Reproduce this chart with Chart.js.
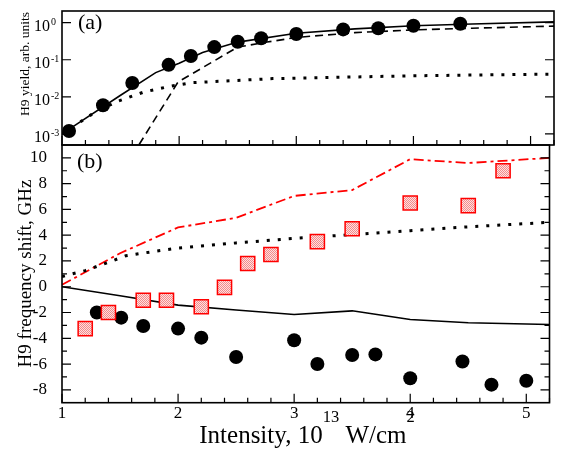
<!DOCTYPE html>
<html>
<head>
<meta charset="utf-8">
<script src="https://cdn.jsdelivr.net/npm/chart.js@4.4.0/dist/chart.umd.min.js"></script>
<style>
  html, body { margin: 0; padding: 0; background: #fff; }
  #wrap { position: relative; width: 561px; height: 457px; }
  #wrap canvas { position: absolute; left: 0; top: 0; }
</style>
</head>
<body>
<div id="wrap">
  <canvas id="chartA" width="561" height="457"></canvas>
  <canvas id="chartB" width="561" height="457"></canvas>
</div>
<script>
// panel (a): H9 yield (log scale)
const yieldExpX = [1.06, 1.35, 1.60, 1.91, 2.10, 2.30, 2.50, 2.70, 3.00, 3.40, 3.70, 4.00, 4.40];
const yieldExpY = [0.0012, 0.0059, 0.0235, 0.073, 0.126, 0.22, 0.305, 0.38, 0.495, 0.66, 0.71, 0.83, 0.94];
const yieldTotalX = [1.0, 1.5, 1.8, 2.0, 2.2, 2.5, 3.0, 3.5, 4.0, 4.5, 5.2];
const yieldTotalY = [0.001, 0.011, 0.045, 0.081, 0.158, 0.30, 0.52, 0.68, 0.83, 0.92, 1.05];
const yieldShortX = [1.6, 1.99, 2.5, 2.75, 3.0, 3.5, 4.0, 4.5, 5.2];
const yieldShortY = [0.00026, 0.025, 0.22, 0.30, 0.40, 0.54, 0.64, 0.71, 0.81];
const yieldLongX = [1.0, 1.25, 1.46, 1.7, 1.9, 2.1, 2.8, 4.0, 5.2];
const yieldLongY = [0.001, 0.0033, 0.0073, 0.0135, 0.0186, 0.024, 0.031, 0.037, 0.041];
const yieldDecades = [0, -1, -2, -3];

// panel (b): H9 frequency shift
const shiftExpX = [1.30, 1.51, 1.70, 2.00, 2.20, 2.50, 3.00, 3.20, 3.50, 3.70, 4.00, 4.45, 4.70, 5.00];
const shiftExpY = [-2.0, -2.4, -3.05, -3.25, -3.95, -5.45, -4.15, -6.0, -5.3, -5.25, -7.1, -5.8, -7.6, -7.3];
const shiftSqX = [1.20, 1.40, 1.70, 1.90, 2.20, 2.40, 2.60, 2.80, 3.20, 3.50, 4.00, 4.50, 4.80];
const shiftSqY = [-3.25, -2.0, -1.05, -1.05, -1.55, -0.05, 1.8, 2.5, 3.5, 4.5, 6.5, 6.3, 9.0];
const shiftSolidX = [1.0, 1.5, 2.0, 2.5, 3.0, 3.5, 4.0, 4.5, 5.2];
const shiftSolidY = [0.0, -0.7, -1.43, -1.8, -2.15, -1.87, -2.54, -2.8, -2.93];
const shiftDotX = [1.0, 1.2, 1.4, 1.55, 1.8, 2.0, 2.5, 3.0, 3.5, 4.0, 4.5, 5.2];
const shiftDotY = [0.8, 1.25, 1.9, 2.4, 2.75, 3.0, 3.4, 3.75, 4.05, 4.35, 4.65, 5.0];
const shiftDashDotX = [1.0, 1.5, 2.0, 2.5, 3.0, 3.5, 4.0, 4.5, 5.2];
const shiftDashDotY = [0.15, 2.6, 4.6, 5.35, 7.05, 7.5, 9.9, 9.6, 10.0];

const xTickLabels = [1, 2, 3, 4, 5];

const SERIF = '"Liberation Serif", "Times New Roman", serif';

function pts(xs, ys) {
    return xs.map((x, i) => ({ x: x, y: ys[i] }));
}

function isWhole(v) {
    return Math.abs(v - Math.round(v)) < 1e-6;
}

// minor ticks every 0.2 along intensity
function xTickValues() {
    const out = [];
    for (let k = 10; k <= 52; k += 2) out.push(k / 10);
    return out;
}

// red stipple used inside the squares
function makeStipple() {
    const c = document.createElement('canvas');
    c.width = 2; c.height = 2;
    const g = c.getContext('2d');
    g.fillStyle = '#fde0e0';
    g.fillRect(0, 0, 2, 2);
    g.fillStyle = '#f48a8a';
    g.fillRect(0, 0, 1, 1);
    g.fillRect(1, 1, 1, 1);
    return g.createPattern(c, 'repeat');
}

// box + inward tick marks
const frameTicks = {
    id: 'frameTicks',
    afterDraw(chart, args, opts) {
        const ctx = chart.ctx;
        const a = chart.chartArea;
        const xs = chart.scales.x;
        const ys = chart.scales.y;
        ctx.save();
        ctx.strokeStyle = '#000';
        ctx.lineWidth = 1.2;
        ctx.beginPath();
        xTickValues().forEach(v => {
            const px = xs.getPixelForValue(v);
            const len = isWhole(v) ? 9 : 5;
            ctx.moveTo(px, a.bottom);
            ctx.lineTo(px, a.bottom - len);
        });
        opts.yTicks.forEach(t => {
            const py = ys.getPixelForValue(t.v);
            ctx.moveTo(a.left, py);
            ctx.lineTo(a.left + t.len, py);
            ctx.moveTo(a.right, py);
            ctx.lineTo(a.right - t.len, py);
        });
        ctx.stroke();
        ctx.lineWidth = 1.6;
        ctx.strokeRect(a.left, a.top, a.right - a.left, a.bottom - a.top);
        ctx.restore();
    }
};

// text with superscripts: parts = [[text, size, raise], ...]
function drawParts(ctx, parts, cx, baseY) {
    let total = 0;
    parts.forEach(p => {
        ctx.font = p[1] + 'px ' + SERIF;
        total += ctx.measureText(p[0]).width;
    });
    let x = cx - total / 2;
    ctx.textAlign = 'left';
    ctx.textBaseline = 'alphabetic';
    parts.forEach(p => {
        ctx.font = p[1] + 'px ' + SERIF;
        ctx.fillText(p[0], x, baseY - p[2]);
        x += ctx.measureText(p[0]).width;
    });
}

function drawVertical(ctx, text, size, x, y) {
    ctx.save();
    ctx.translate(x, y);
    ctx.rotate(-Math.PI / 2);
    ctx.font = size + 'px ' + SERIF;
    ctx.textAlign = 'center';
    ctx.textBaseline = 'middle';
    ctx.fillText(text, 0, 0);
    ctx.restore();
}

const labelsA = {
    id: 'labelsA',
    afterDraw(chart) {
        const ctx = chart.ctx;
        const ys = chart.scales.y;
        ctx.save();
        ctx.fillStyle = '#000';
        yieldDecades.forEach(k => {
            const py = ys.getPixelForValue(Math.pow(10, k));
            ctx.font = '16px ' + SERIF;
            ctx.textAlign = 'right';
            ctx.textBaseline = 'alphabetic';
            ctx.fillText('10', 50, py + 8.5);
            ctx.font = '10px ' + SERIF;
            ctx.textAlign = 'left';
            ctx.fillText(String(k), 51, py + 2.5);
        });
        drawVertical(ctx, 'H9 yield, arb. units', 13.5, 25, 64);
        ctx.font = '22px ' + SERIF;
        ctx.textAlign = 'left';
        ctx.textBaseline = 'alphabetic';
        ctx.fillText('(a)', 78, 29);
        ctx.restore();
    }
};

const labelsB = {
    id: 'labelsB',
    afterDraw(chart) {
        const ctx = chart.ctx;
        ctx.save();
        ctx.fillStyle = '#000';
        drawVertical(ctx, 'H9 frequency shift, GHz', 19, 26, 273.5);
        drawParts(ctx, [
            ['Intensity, 10', 25, 0],
            ['13', 16.5, 21],
            [' W/cm', 25, 0],
            ['2', 16.5, 21]
        ], 307, 443);
        ctx.font = '22px ' + SERIF;
        ctx.textAlign = 'left';
        ctx.textBaseline = 'alphabetic';
        ctx.fillText('(b)', 77, 168);
        ctx.restore();
    }
};

const baseOpts = {
    responsive: false,
    animation: false,
    devicePixelRatio: 1,
    plugins: {
        legend: { display: false },
        tooltip: { enabled: false }
    }
};

// ---- panel (a)
new Chart(document.getElementById('chartA').getContext('2d'), {
    type: 'scatter',
    data: {
        datasets: [
            {
                data: pts(yieldExpX, yieldExpY),
                pointStyle: 'circle',
                pointRadius: 7,
                pointBackgroundColor: '#000',
                pointBorderWidth: 0,
                showLine: false
            },
            {
                data: pts(yieldTotalX, yieldTotalY),
                showLine: true,
                borderColor: '#000',
                borderWidth: 1.6,
                pointRadius: 0
            },
            {
                data: pts(yieldShortX, yieldShortY),
                showLine: true,
                borderColor: '#000',
                borderWidth: 1.6,
                borderDash: [8, 5],
                pointRadius: 0
            },
            {
                data: pts(yieldLongX, yieldLongY),
                showLine: true,
                borderColor: '#000',
                borderWidth: 3,
                borderDash: [3, 8],
                pointRadius: 0
            }
        ]
    },
    options: {
        ...baseOpts,
        layout: { padding: { left: 62, right: 1, top: 11, bottom: 312 } },
        scales: {
            x: { type: 'linear', min: 1, max: 5.2, display: false },
            y: { type: 'logarithmic', min: 0.000501, max: 2.07, display: false }
        },
        plugins: {
            ...baseOpts.plugins,
            frameTicks: {
                yTicks: yieldDecades.map(k => ({ v: Math.pow(10, k), len: 9 }))
            }
        }
    },
    plugins: [frameTicks, labelsA]
});

// ---- panel (b)
const shiftTicks = [];
for (let v = -8; v <= 10; v++) shiftTicks.push({ v: v, len: v % 2 === 0 ? 9 : 5 });

new Chart(document.getElementById('chartB').getContext('2d'), {
    type: 'scatter',
    data: {
        datasets: [
            {
                data: pts(shiftSqX, shiftSqY),
                pointStyle: 'rect',
                pointRadius: 10,
                pointBackgroundColor: makeStipple(),
                pointBorderColor: '#ff0000',
                pointBorderWidth: 1.5,
                showLine: false
            },
            {
                data: pts(shiftExpX, shiftExpY),
                pointStyle: 'circle',
                pointRadius: 7,
                pointBackgroundColor: '#000',
                pointBorderWidth: 0,
                showLine: false
            },
            {
                data: pts(shiftSolidX, shiftSolidY),
                showLine: true,
                borderColor: '#000',
                borderWidth: 1.6,
                pointRadius: 0
            },
            {
                data: pts(shiftDotX, shiftDotY),
                showLine: true,
                borderColor: '#000',
                borderWidth: 3,
                borderDash: [3, 8],
                pointRadius: 0
            },
            {
                data: pts(shiftDashDotX, shiftDashDotY),
                showLine: true,
                borderColor: '#ff0000',
                borderWidth: 1.8,
                borderDash: [10, 4, 3, 4],
                pointRadius: 0
            }
        ]
    },
    options: {
        ...baseOpts,
        layout: { padding: { left: 0, right: 1, top: 145, bottom: 0 } },
        scales: {
            x: {
                type: 'linear', min: 1, max: 5.2,
                grid: { display: false },
                border: { display: false },
                afterFit: s => { s.height = 54.3; },
                ticks: {
                    stepSize: 0.2,
                    autoSkip: false,
                    maxRotation: 0,
                    padding: -7,
                    color: '#000',
                    font: { family: SERIF, size: 17 },
                    callback: v => (isWhole(v) && xTickLabels.includes(Math.round(v))) ? String(Math.round(v)) : ''
                }
            },
            y: {
                type: 'linear', min: -9, max: 11,
                grid: { display: false },
                border: { display: false },
                afterFit: s => { s.width = 62; },
                ticks: {
                    stepSize: 1,
                    autoSkip: false,
                    padding: 7,
                    color: '#000',
                    font: { family: SERIF, size: 17 },
                    callback: v => (v % 2 === 0 && v > -9 && v < 11) ? String(v) : ''
                }
            }
        },
        plugins: {
            ...baseOpts.plugins,
            frameTicks: { yTicks: shiftTicks }
        }
    },
    plugins: [frameTicks, labelsB]
});
</script>
</body>
</html>
